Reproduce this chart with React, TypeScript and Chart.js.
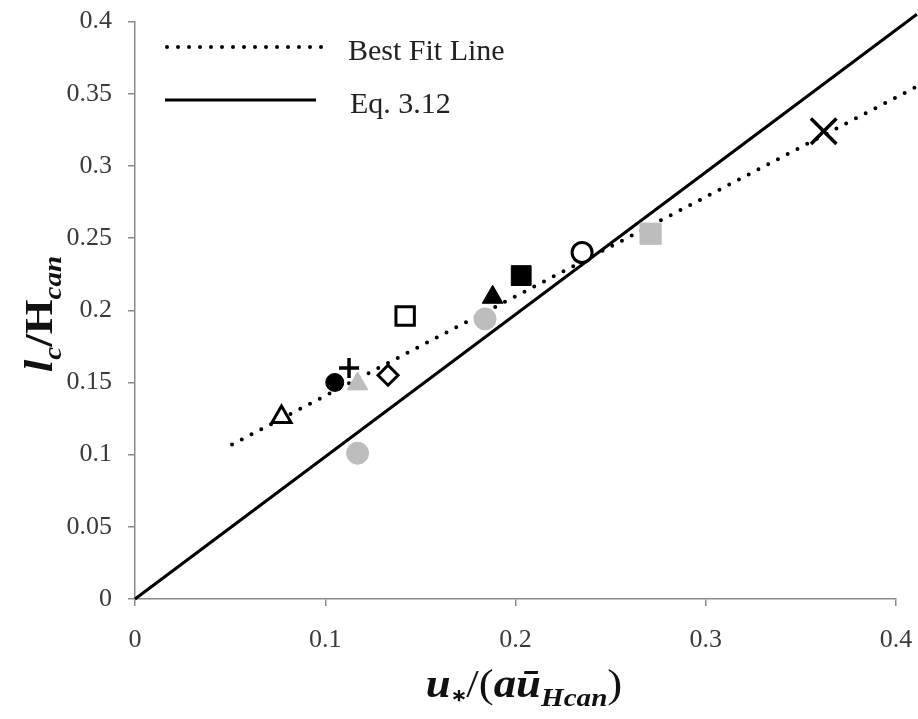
import React, { useEffect, useRef } from "react";
import { Chart, registerables } from "chart.js";

Chart.register(...registerables);

// ---- data ----
const pointNames = [
  "open triangle", "filled circle", "plus", "grey triangle", "grey circle low",
  "open diamond", "open square", "grey circle", "filled triangle", "filled square",
  "open circle", "grey square", "cross",
];
const pointX = [0.077, 0.105, 0.1125, 0.117, 0.117, 0.133, 0.142, 0.184, 0.188, 0.203, 0.235, 0.271, 0.362];
const pointY = [0.126, 0.150, 0.160, 0.149, 0.101, 0.155, 0.196, 0.194, 0.209, 0.224, 0.240, 0.253, 0.324];

const fitX = [0.051, 0.411];
const fitY = [0.107, 0.355];
const eqX = [0, 0.411];
const eqY = [0, 0.405];

const xTickValues = [0, 0.1, 0.2, 0.3, 0.4];
const yTickValues = [0, 0.05, 0.1, 0.15, 0.2, 0.25, 0.3, 0.35, 0.4];
const legendLabels = ["Best Fit Line", "Eq. 3.12"];

// ---- styles (kept apart from the data) ----
const GREY = "#bdbdbd";
const markerStyles = [
  { pointStyle: "triangle", r: 11, bg: "#ffffff", bc: "#000", bw: 3 },
  { pointStyle: "circle", r: 9, bg: "#000", bc: "#000", bw: 1 },
  { pointStyle: "cross", r: 10, bg: "#000", bc: "#000", bw: 3.5 },
  { pointStyle: "triangle", r: 12, bg: GREY, bc: GREY, bw: 1 },
  { pointStyle: "circle", r: 11, bg: GREY, bc: GREY, bw: 1 },
  { pointStyle: "rectRot", r: 10, bg: "#ffffff", bc: "#000", bw: 3 },
  { pointStyle: "rect", r: 13, bg: "#ffffff", bc: "#000", bw: 3 },
  { pointStyle: "circle", r: 11, bg: GREY, bc: GREY, bw: 1 },
  { pointStyle: "triangle", r: 12, bg: "#000", bc: "#000", bw: 1 },
  { pointStyle: "rect", r: 14, bg: "#000", bc: "#000", bw: 1 },
  { pointStyle: "circle", r: 10, bg: "#ffffff", bc: "#000", bw: 3 },
  { pointStyle: "rect", r: 15, bg: GREY, bc: GREY, bw: 1 },
  { pointStyle: "crossRot", r: 18, bg: "#000", bc: "#000", bw: 3.5 },
];

const W = 918;
const H = 719;
const SERIF = "'Liberation Serif', 'Times New Roman', serif";

type Part = { t: string; sub?: boolean; font?: string; dy?: number };

function drawParts(ctx: CanvasRenderingContext2D, parts: Part[], cx: number, baseY: number, sx: number) {
  const mainFont = `italic bold 40px ${SERIF}`;
  const subFont = `italic bold 26px ${SERIF}`;
  let total = 0;
  const widths: number[] = [];
  parts.forEach((p) => {
    ctx.font = p.font || (p.sub ? subFont : mainFont);
    const w = ctx.measureText(p.t).width;
    widths.push(w);
    total += w;
  });
  ctx.save();
  ctx.translate(cx, baseY);
  ctx.scale(sx, 1);
  let x = -total / 2;
  ctx.textAlign = "left";
  ctx.textBaseline = "alphabetic";
  parts.forEach((p, i) => {
    ctx.font = p.font || (p.sub ? subFont : mainFont);
    ctx.fillText(p.t, x, p.dy !== undefined ? p.dy : p.sub ? 9 : 0);
    x += widths[i];
  });
  ctx.restore();
}

const decorPlugin = {
  id: "decor",
  afterDraw(chart: any) {
    const ctx: CanvasRenderingContext2D = chart.ctx;
    ctx.save();
    ctx.fillStyle = "#111";
    // x-axis title
    drawParts(
      ctx,
      [
        { t: "u" },
        { t: "∗", sub: true, font: `bold 17px ${SERIF}`, dy: 4 },
        { t: "/(", font: `40px ${SERIF}` },
        { t: "a" },
        { t: "ū" },
        { t: "Hcan", sub: true },
        { t: ")", font: `40px ${SERIF}` },
      ],
      524,
      697,
      1.12
    );
    // y-axis title
    ctx.save();
    ctx.translate(52, 314);
    ctx.rotate(-Math.PI / 2);
    drawParts(
      ctx,
      [
        { t: "l" },
        { t: "c", sub: true },
        { t: "/H", font: `bold 40px ${SERIF}` },
        { t: "can", sub: true },
      ],
      0,
      0,
      1.12
    );
    ctx.restore();

    // legend
    ctx.strokeStyle = "#000";
    ctx.lineCap = "round";
    ctx.lineWidth = 4;
    ctx.setLineDash([0, 11]);
    ctx.beginPath();
    ctx.moveTo(167, 47);
    ctx.lineTo(325, 47);
    ctx.stroke();
    ctx.setLineDash([]);
    ctx.lineCap = "butt";
    ctx.lineWidth = 3;
    ctx.beginPath();
    ctx.moveTo(165, 100);
    ctx.lineTo(316, 100);
    ctx.stroke();
    ctx.font = `30px ${SERIF}`;
    ctx.fillStyle = "#222";
    ctx.textAlign = "left";
    ctx.textBaseline = "middle";
    ctx.fillText(legendLabels[0], 348, 52);
    ctx.fillText(legendLabels[1], 350, 105);
    ctx.restore();
  },
};

export default function App() {
  const ref = useRef<HTMLCanvasElement | null>(null);

  useEffect(() => {
    if (!ref.current) return;
    const markerSets = pointNames.map((name, i) => {
      const s = markerStyles[i];
      return {
        label: name,
        type: "scatter" as const,
        data: [{ x: pointX[i], y: pointY[i] }],
        pointStyle: s.pointStyle,
        pointRadius: s.r,
        pointBackgroundColor: s.bg,
        pointBorderColor: s.bc,
        pointBorderWidth: s.bw,
        showLine: false,
        clip: false as const,
      };
    });
    const fitSet = {
      label: legendLabels[0],
      type: "scatter" as const,
      data: fitX.map((x, i) => ({ x, y: fitY[i] })),
      showLine: true,
      pointRadius: 0,
      borderColor: "#000",
      borderWidth: 4,
      borderDash: [0, 11],
      borderCapStyle: "round" as const,
      clip: false as const,
    };
    const eqSet = {
      label: legendLabels[1],
      type: "scatter" as const,
      data: eqX.map((x, i) => ({ x, y: eqY[i] })),
      showLine: true,
      pointRadius: 0,
      borderColor: "#000",
      borderWidth: 3,
      clip: false as const,
    };

    const tickFont = { family: SERIF, size: 26 };
    const fmt = (v: any) => String(Number(Number(v).toFixed(2)));

    const chart = new Chart(ref.current, {
      type: "scatter",
      data: { datasets: [...markerSets, fitSet, eqSet] as any },
      options: {
        animation: false,
        responsive: false,
        devicePixelRatio: 1,
        layout: { padding: { left: 0, top: 20, right: 22, bottom: 0 } },
        plugins: { legend: { display: false }, tooltip: { enabled: false } },
        scales: {
          x: {
            type: "linear",
            min: 0,
            max: 0.4,
            afterFit: (s: any) => {
              s.height = H - 599;
              s.paddingLeft = 0;
              s.paddingRight = 0;
            },
            afterBuildTicks: (s: any) => {
              s.ticks = xTickValues.map((v) => ({ value: v }));
            },
            ticks: {
              color: "#3a3a3a",
              font: tickFont,
              padding: 19,
              maxRotation: 0,
              callback: fmt,
            },
            grid: { drawOnChartArea: false, drawTicks: true, tickLength: 7, color: "#8a8a8a", lineWidth: 1.5 },
            border: { display: true, color: "#8a8a8a", width: 1.5 },
          },
          y: {
            type: "linear",
            min: 0,
            max: 0.4,
            afterFit: (s: any) => {
              s.width = 135;
              s.paddingTop = 0;
              s.paddingBottom = 0;
            },
            afterBuildTicks: (s: any) => {
              s.ticks = yTickValues.map((v) => ({ value: v }));
            },
            ticks: {
              color: "#3a3a3a",
              font: tickFont,
              padding: 16,
              callback: fmt,
            },
            grid: { drawOnChartArea: false, drawTicks: true, tickLength: 7, color: "#8a8a8a", lineWidth: 1.5 },
            border: { display: true, color: "#8a8a8a", width: 1.5 },
          },
        },
      },
      plugins: [decorPlugin],
    });
    return () => chart.destroy();
  }, []);

  return (
    <div style={{ position: "absolute", left: 0, top: 0, width: W, height: H, background: "#fff" }}>
      <canvas ref={ref} width={W} height={H} style={{ width: W, height: H, display: "block" }} />
    </div>
  );
}
